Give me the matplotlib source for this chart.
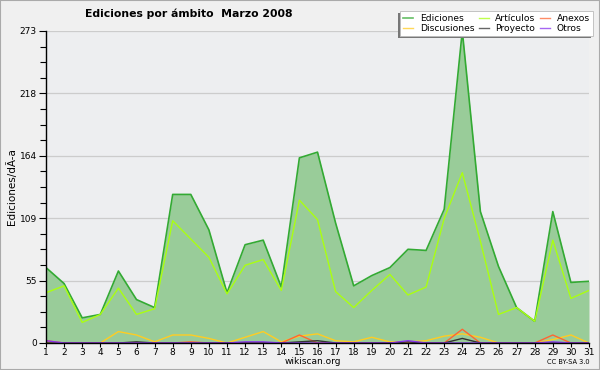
"""
Ediciones por ámbito, Marzo 2008 (wikiscan style area chart).
"""

import numpy as np
import matplotlib
matplotlib.use("Agg")
import matplotlib.pyplot as plt
from matplotlib.ticker import FixedLocator, AutoMinorLocator
from matplotlib.patches import Rectangle

# ── Data ────────────────────────────────────────────────────
days = list(range(1, 32))
ediciones = [66, 52, 22, 25, 63, 38, 31, 130, 130, 99, 44, 86, 90, 49, 162,
             167, 105, 50, 59, 66, 82, 81, 117, 273, 115, 67, 31, 19, 115, 53, 54]
articulos = [44, 50, 18, 25, 48, 25, 30, 107, 91, 75, 43, 68, 73, 46, 125,
             108, 45, 31, 46, 60, 42, 49, 109, 149, 89, 25, 31, 19, 90, 39, 46]
discusiones = [0, 0, 0, 0, 10, 7, 1, 7, 7, 4, 0, 5, 10, 1, 6,
               8, 2, 1, 5, 1, 1, 2, 6, 8, 5, 0, 0, 0, 3, 7, 0]
anexos = [2, 0, 0, 0, 0, 0, 0, 0, 1, 0, 0, 0, 0, 0, 7,
          0, 0, 0, 0, 0, 0, 0, 0, 12, 0, 0, 0, 0, 7, 0, 0]
proyecto = [0, 0, 0, 0, 0, 1, 0, 0, 0, 0, 0, 0, 0, 0, 1,
            2, 0, 0, 0, 0, 1, 0, 0, 4, 0, 0, 0, 0, 0, 0, 0]
otros = [2, 0, 0, 0, 0, 0, 0, 0, 0, 0, 0, 1, 1, 0, 0,
         0, 0, 0, 0, 0, 2, 0, 0, 0, 0, 0, 0, 0, 1, 0, 0]

# ── Figure ──────────────────────────────────────────────────
W, H = 600, 370
fig = plt.figure(figsize=(W / 100, H / 100), dpi=100, facecolor="#f0f0f0")
ax = fig.add_axes([46 / W, 1 - 343 / H, (589 - 46) / W, (343 - 31) / H])
ax.set_facecolor("#edeef0")

x = np.array(days)
ymax = max(ediciones)

ax.fill_between(x, ediciones, color="#99cc99", lw=0, zorder=2)
ax.plot(x, ediciones, color="#33aa33", lw=1.2, zorder=3, label="Ediciones")
ax.plot(x, articulos, color="#aaff11", lw=1.0, zorder=4, label="Artículos")
ax.plot(x, discusiones, color="#ffcc22", lw=1.0, zorder=4, label="Discusiones")
ax.plot(x, anexos, color="#ff6633", lw=1.0, zorder=5, label="Anexos")
ax.plot(x, proyecto, color="#333333", lw=1.0, zorder=5, label="Proyecto")
ax.plot(x, otros, color="#8833ee", lw=1.0, zorder=5, label="Otros")

ax.set_xlim(1, 31)
ax.set_ylim(0, ymax)

yt = np.linspace(0, ymax, 6)
ax.yaxis.set_major_locator(FixedLocator(yt))
ax.set_yticklabels([f"{v:.0f}" for v in yt])
ax.yaxis.set_minor_locator(AutoMinorLocator(4))
ax.set_xticks(days)
ax.tick_params(axis="y", which="major", labelsize=6.5, length=5,
               width=0.8, pad=1.5, colors="black")
ax.tick_params(axis="y", which="minor", length=4, width=0.8)
ax.tick_params(axis="x", which="major", labelsize=6.5, length=3,
               width=0.8, pad=0.3, colors="black")
ax.grid(axis="y", which="major", color="#cccccc", lw=0.9, zorder=1)

for side in ("top", "right"):
    ax.spines[side].set_visible(False)
for side in ("left", "bottom"):
    ax.spines[side].set_linewidth(1.0)
    ax.spines[side].set_zorder(6)

ax.set_ylabel("Ediciones/dÃ-a", fontsize=7.5, labelpad=2)

# legend: column-wise fill gives Ediciones/Discusiones, Artículos/Proyecto, Anexos/Otros
h, l = ax.get_legend_handles_labels()
order = [0, 2, 1, 4, 3, 5]
leg = ax.legend([h[i] for i in order], [l[i] for i in order], ncol=3,
                fontsize=6.6, loc="upper right",
                bbox_to_anchor=(593 / W, 1 - 11 / H),
                bbox_transform=fig.transFigure,
                frameon=True, fancybox=False, shadow=False,
                handlelength=1.1, handletextpad=0.7, columnspacing=0.5,
                labelspacing=0.1, borderpad=0.35, borderaxespad=0)
leg.get_frame().set_edgecolor("#bbbbbb")
leg.get_frame().set_linewidth(0.6)
leg.get_frame().set_facecolor("white")
leg.get_frame().set_alpha(1)
leg.set_zorder(10)
for ln in leg.get_lines():
    ln.set_alpha(0.75)

# shadow offset to the lower left, as in the reference
fig.canvas.draw()
bb = leg.get_window_extent().transformed(fig.transFigure.inverted())
ax.add_patch(Rectangle((bb.x0 - 2 / W, bb.y0 - 2 / H), bb.width, bb.height,
                       transform=fig.transFigure, facecolor="#777777",
                       edgecolor="none", zorder=9, clip_on=False))

fig.text(85 / W, 1 - 14 / H, "Ediciones por ámbito  Marzo 2008",
         fontsize=7.8, fontweight="bold", ha="left", va="center")
fig.text(313 / W, 1 - 361 / H, "wikiscan.org", fontsize=6.5,
         ha="center", va="center")
fig.text(590 / W, 1 - 362 / H, "CC BY-SA 3.0", fontsize=4.8,
         ha="right", va="center")

# outer frame
fig.patches.append(Rectangle((0, 0), 1, 1, transform=fig.transFigure,
                             fill=False, edgecolor="#aaaaaa", lw=1.5))

fig.savefig("out.png", dpi=100, facecolor=fig.get_facecolor())
